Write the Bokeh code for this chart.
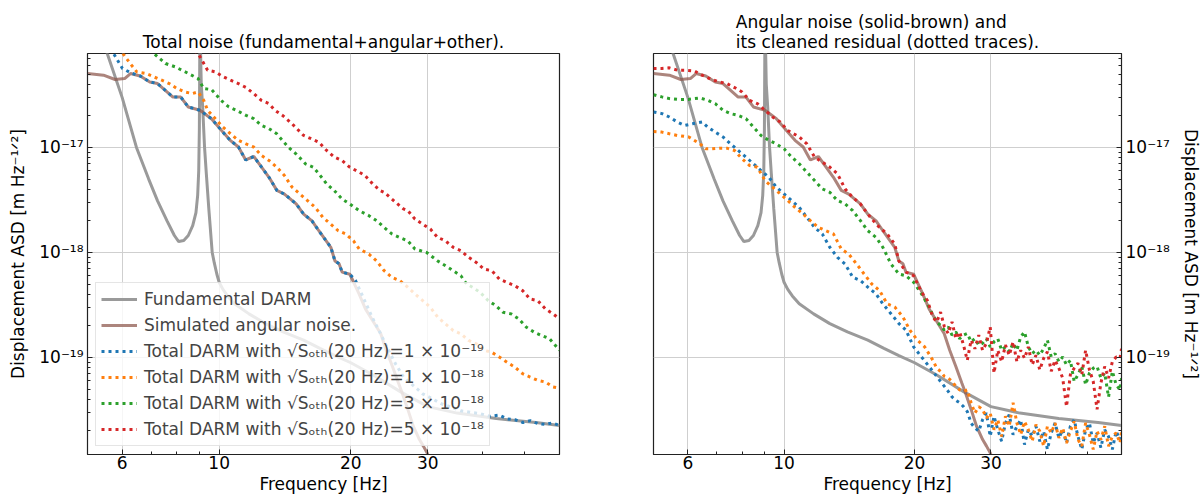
from bokeh.plotting import figure
from bokeh.layouts import row
from bokeh.models import FixedTicker, CustomJSTickFormatter
from bokeh.embed import file_html
from bokeh.resources import INLINE

FONT = "DejaVu Sans"
FS = "17px"

# ---------------- data (Hz, m/sqrt(Hz)) ----------------
fund_f = [5.0, 5.3, 5.55, 6.0, 6.47, 6.9, 7.23, 7.6, 7.9, 8.08, 8.3, 8.5, 8.7, 8.85, 8.93,
          8.98, 9.01, 9.04, 9.06, 9.1, 9.17, 9.26, 9.35, 9.47, 9.64, 9.75, 9.88, 10.0, 10.2, 10.45,
          10.84, 11.7, 12.75, 14.0, 15.6, 17.0, 18.4, 20.0, 22.5, 26.0, 30.0, 35.0, 43.0, 53.0, 60.0]
fund_A = [3.2e-16, 1.5e-16, 7.8e-17, 3.0e-17, 1.0e-17, 5.0e-18, 3.1e-18, 2.0e-18, 1.45e-18, 1.27e-18,
          1.3e-18, 1.45e-18, 1.8e-18, 2.4e-18, 3.5e-18, 6.0e-18, 1.5e-17, 2.0e-16, 1.0e-16, 4.0e-17,
          2.4e-17, 1.0e-17, 5.5e-18, 2.6e-18, 1.0e-18, 7.9e-19, 6.2e-19, 5.2e-19, 4.45e-19, 3.85e-19,
          3.24e-19, 2.6e-19, 2.1e-19, 1.75e-19, 1.46e-19, 1.22e-19, 1.04e-19, 8.9e-20, 6.8e-20, 4.7e-20,
          3.4e-20, 2.95e-20, 2.62e-20, 2.4e-20, 2.25e-20]

brown_f = [5.0, 5.44, 5.78, 6.08, 6.27, 6.60, 6.94, 7.23, 7.53, 7.84, 8.17, 8.5, 9.04, 9.6, 10.2,
           10.6, 11.07, 11.5, 12.0, 12.5, 13.0, 13.55, 14.1, 15.0, 15.6, 16.3, 16.9, 18.0, 18.4, 18.8,
           19.1, 19.9, 20.3, 20.9, 21.6, 22.5, 23.4, 24.1, 24.9, 25.7, 26.2, 27.0, 27.8, 28.7, 29.3,
           29.9, 31.0]
brown_A = [5.06e-17, 4.88e-17, 4.44e-17, 4.53e-17, 5.06e-17, 4.79e-17, 4.21e-17, 4.06e-17, 3.5e-17, 3.02e-17,
           3.02e-17, 2.43e-17, 2.26e-17, 1.88e-17, 1.40e-17, 1.17e-17, 1.01e-17, 7.6e-18, 8.2e-18, 6.5e-18,
           5.2e-18, 3.9e-18, 3.6e-18, 2.9e-18, 2.32e-18, 2.0e-18, 1.61e-18, 1.12e-18, 8.3e-19, 7.8e-19,
           6.5e-19, 6.2e-19, 5.2e-19, 4.0e-19, 2.9e-19, 2.2e-19, 1.69e-19, 1.17e-19, 8.2e-20, 5.7e-20,
           4.6e-20, 3.2e-20, 2.2e-20, 1.65e-20, 1.43e-20, 1.23e-20, 8.0e-21]

# left panel: total DARM
blue_l_f = [5.0, 5.4, 5.74, 6.01, 6.28, 6.60, 6.94, 7.23, 7.53, 7.84, 8.17, 8.5, 9.04, 9.6, 10.2,
            10.6, 11.07, 11.5, 12.0, 12.5, 13.0, 13.55, 14.1, 15.0, 15.6, 16.3, 16.9, 18.0, 18.4, 18.8,
            19.1, 19.9, 20.5, 21.5, 22.4, 23.4, 24.4, 25.3, 26.4, 28.0, 29.2, 30.5, 32.3, 34.0, 35.7,
            37.5, 39.5, 41.5, 43.7, 45.5, 47.5, 49.5, 51.5, 53.5, 55.7, 57.8, 60.0]
blue_l_A = [3.2e-16, 1.4e-16, 7.8e-17, 5.65e-17, 5.13e-17, 4.79e-17, 4.21e-17, 4.06e-17, 3.5e-17, 3.02e-17,
            3.02e-17, 2.43e-17, 2.26e-17, 1.88e-17, 1.40e-17, 1.17e-17, 1.01e-17, 7.6e-18, 8.2e-18, 6.5e-18,
            5.2e-18, 3.9e-18, 3.6e-18, 2.9e-18, 2.32e-18, 2.0e-18, 1.61e-18, 1.12e-18, 8.3e-19, 7.8e-19,
            6.5e-19, 6.2e-19, 5.4e-19, 3.5e-19, 2.4e-19, 1.68e-19, 1.17e-19, 8.7e-20, 6.5e-20, 5.25e-20,
            4.5e-20, 4.1e-20, 3.6e-20, 3.35e-20, 3.1e-20, 3.0e-20, 2.92e-20, 2.75e-20, 2.82e-20, 2.6e-20,
            2.55e-20, 2.4e-20, 2.5e-20, 2.35e-20, 2.3e-20, 2.38e-20, 2.25e-20]

orange_l_f = [5.0, 5.6, 6.26, 6.48, 6.81, 7.09, 7.39, 7.69, 8.01, 8.34, 8.68, 8.95, 9.22, 9.41, 9.80,
              10.2, 10.62, 11.06, 11.52, 11.99, 12.49, 13.0, 13.54, 14.1, 14.68, 15.29, 15.92, 16.58, 17.26, 17.97,
              18.71, 19.48, 20.28, 20.9, 22.0, 22.9, 23.84, 24.83, 25.85, 27.0, 28.03, 29.2, 30.4, 31.6, 32.9,
              34.3, 35.7, 37.2, 38.7, 40.3, 42.0, 43.7, 45.5, 47.4, 49.4, 51.4, 53.5, 55.7, 58.0, 60.0]
orange_l_A = [3.5e-16, 1.2e-16, 6.3e-17, 5.25e-17, 5.06e-17, 4.7e-17, 4.37e-17, 4.06e-17, 3.64e-17, 3.38e-17,
              3.26e-17, 3.38e-17, 2.81e-17, 2.26e-17, 1.88e-17, 1.56e-17, 1.35e-17, 1.17e-17, 1.08e-17, 1.01e-17,
              8.39e-18, 7.52e-18, 6.49e-18, 5.4e-18, 4.18e-18, 3.61e-18, 3.12e-18, 2.69e-18, 2.16e-18, 1.87e-18,
              1.61e-18, 1.5e-18, 1.29e-18, 1.08e-18, 9.64e-19, 8.3e-19, 6.7e-19, 5.8e-19, 5.4e-19, 4.66e-19,
              4.03e-19, 3.48e-19, 3.0e-19, 2.42e-19, 2.09e-19, 1.8e-19, 1.68e-19, 1.45e-19, 1.35e-19, 1.17e-19,
              1.12e-19, 1.01e-19, 9.0e-20, 8.1e-20, 7.0e-20, 6.5e-20, 6.05e-20, 5.83e-20, 5.24e-20, 5.1e-20]

green_l_f = [5.0, 6.0, 7.09, 7.54, 7.93, 8.51, 8.95, 9.22, 9.60, 10.1, 10.52, 10.95, 11.52, 11.99, 12.49,
             13.0, 13.54, 14.38, 14.98, 15.76, 16.41, 16.91, 17.61, 18.34, 19.09, 19.88, 20.9, 22.0, 22.9, 23.84,
             24.83, 25.85, 27.0, 28.03, 29.8, 31.6, 34.3, 35.7, 36.8, 37.95, 39.5, 41.2, 42.9, 44.6, 46.5,
             48.4, 50.4, 52.5, 54.6, 56.9, 60.0]
green_l_A = [4.5e-16, 1.7e-16, 7.85e-17, 6.3e-17, 5.86e-17, 5.06e-17, 4.53e-17, 3.64e-17, 3.56e-17, 2.81e-17,
             2.43e-17, 2.26e-17, 2.02e-17, 1.88e-17, 1.62e-17, 1.51e-17, 1.35e-17, 1.01e-17, 8.7e-18, 6.98e-18,
             6.49e-18, 5.6e-18, 4.5e-18, 3.88e-18, 3.23e-18, 2.9e-18, 2.5e-18, 2.24e-18, 2.01e-18, 1.73e-18,
             1.5e-18, 1.39e-18, 1.29e-18, 1.08e-18, 1.0e-18, 8.3e-19, 6.7e-19, 6.0e-19, 5.0e-19, 4.66e-19,
             4.17e-19, 3.48e-19, 3.12e-19, 2.69e-19, 2.6e-19, 2.33e-19, 1.94e-19, 1.74e-19, 1.62e-19, 1.51e-19,
             1.17e-19]

red_l_f = [5.0, 7.0, 8.95, 9.41, 9.80, 10.16, 10.62, 11.06, 11.52, 11.99, 12.49, 13.0, 13.41, 13.96, 14.68,
           15.6, 16.24, 16.91, 17.61, 18.34, 19.09, 19.88, 20.9, 21.55, 22.44, 23.37, 23.84, 25.33, 26.38, 27.0,
           28.03, 29.2, 30.4, 31.6, 32.9, 34.3, 35.7, 37.2, 38.7, 40.3, 42.0, 43.7, 45.5, 47.4, 49.4,
           51.4, 53.5, 55.7, 58.0, 60.0]
red_l_A = [6.0e-16, 1.6e-16, 7.85e-17, 5.45e-17, 5.25e-17, 4.77e-17, 4.37e-17, 4.06e-17, 3.72e-17, 3.26e-17,
           2.81e-17, 2.61e-17, 2.26e-17, 2.02e-17, 1.68e-17, 1.30e-17, 1.21e-17, 1.12e-17, 9.36e-18, 8.09e-18,
           7.52e-18, 6.49e-18, 5.81e-18, 5.4e-18, 4.5e-18, 3.88e-18, 3.74e-18, 3.0e-18, 2.6e-18, 2.5e-18,
           2.08e-18, 1.86e-18, 1.67e-18, 1.39e-18, 1.29e-18, 1.12e-18, 1.04e-18, 8.97e-19, 8.04e-19, 6.95e-19,
           6.7e-19, 5.58e-19, 5.19e-19, 4.83e-19, 4.33e-19, 3.6e-19, 3.48e-19, 2.9e-19, 2.6e-19, 2.33e-19]

# right panel: cleaned residuals (low-frequency part + noisy floor on a common grid)
f_floor = [22.04, 22.49, 22.96, 23.43, 23.91, 24.40, 24.90, 25.41, 25.93, 26.46,
           27.00, 27.55, 28.12, 28.69, 29.28, 29.88, 30.49, 31.11, 31.75, 32.40,
           33.06, 33.74, 34.43, 35.13, 35.85, 36.59, 37.34, 38.10, 38.88, 39.68,
           40.49, 41.32, 42.17, 43.03, 43.91, 44.81, 45.73, 46.67, 47.62, 48.60,
           49.59, 50.61, 51.64, 52.70, 53.78, 54.88, 56.01, 57.15, 58.32, 59.52, 60.0]

blue_r_f = [5.0, 5.23, 5.44, 5.67, 5.90, 6.15, 6.47, 6.67, 6.94, 7.23, 7.53, 7.84, 8.17, 8.5, 8.85,
            9.22, 9.6, 10.0, 10.41, 10.84, 11.29, 11.76, 12.25, 12.75, 13.28, 13.83, 14.40, 15.0, 15.6, 16.3,
            16.9, 17.64, 18.4, 19.1, 19.9, 20.75, 21.6]
blue_r_A = [2.18e-17, 2.1e-17, 1.95e-17, 1.75e-17, 1.62e-17, 1.68e-17, 1.75e-17, 1.56e-17, 1.40e-17, 1.26e-17,
            1.08e-17, 9.36e-18, 8.09e-18, 6.98e-18, 6.03e-18, 5.21e-18, 4.18e-18, 3.61e-18, 3.12e-18, 2.69e-18,
            2.16e-18, 1.73e-18, 1.5e-18, 1.12e-18, 8.97e-19, 7.76e-19, 5.8e-19, 5.4e-19, 4.67e-19, 4.03e-19,
            3.24e-19, 2.61e-19, 2.1e-19, 1.82e-19, 1.26e-19, 1.01e-19, 8.2e-20]
blue_floor = [7.35e-20, 6.6e-20, 5.9e-20, 5.3e-20, 4.75e-20, 4.2e-20, 3.9e-20, 3.7e-20, 3.4e-20, 3.05e-20,
              2.37e-20, 2.13e-20, 1.98e-20, 2.55e-20, 2.95e-20, 1.77e-20, 2.75e-20, 2.05e-20, 1.59e-20, 2.37e-20,
              2.85e-20, 1.84e-20, 2.21e-20, 2.55e-20, 1.48e-20, 2.05e-20, 1.77e-20, 2.21e-20, 1.59e-20, 1.98e-20,
              1.33e-20, 1.91e-20, 2.37e-20, 1.71e-20, 2.05e-20, 1.53e-20, 2.21e-20, 2.55e-20, 1.77e-20, 1.33e-20,
              2.05e-20, 2.37e-20, 1.53e-20, 1.91e-20, 1.38e-20, 2.05e-20, 1.77e-20, 1.33e-20, 1.98e-20, 1.65e-20,
              1.84e-20]

orange_r_f = [5.0, 5.23, 5.44, 5.67, 6.03, 6.40, 6.60, 6.80, 7.09, 7.38, 7.69, 8.0, 8.33, 8.68, 9.04,
              9.41, 9.80, 10.2, 10.6, 11.07, 11.5, 12.0, 12.5, 13.0, 13.55, 14.1, 14.7, 15.3, 15.94, 16.6,
              17.29, 18.0, 18.8, 19.5, 20.3, 21.1]
orange_r_A = [1.42e-17, 1.40e-17, 1.35e-17, 1.30e-17, 1.26e-17, 1.08e-17, 9.7e-18, 9.7e-18, 9.85e-18, 9.85e-18,
              9.36e-18, 7.8e-18, 6.73e-18, 6.49e-18, 4.84e-18, 4.18e-18, 3.61e-18, 3.12e-18, 2.69e-18, 2.32e-18,
              2.01e-18, 1.73e-18, 1.61e-18, 1.50e-18, 1.08e-18, 9.64e-19, 7.76e-19, 6.23e-19, 5.0e-19, 4.34e-19,
              3.24e-19, 3.02e-19, 2.43e-19, 1.82e-19, 1.46e-19, 1.26e-19]
orange_floor = [9.4e-20, 7.9e-20, 7.35e-20, 6.6e-20, 6.35e-20, 5.9e-20, 5.3e-20, 4.9e-20, 4.75e-20, 4.9e-20,
                3.7e-20, 2.95e-20, 3.4e-20, 3.2e-20, 2.65e-20, 2.95e-20, 2.05e-20, 2.55e-20, 1.77e-20, 2.75e-20,
                2.21e-20, 3.7e-20, 2.37e-20, 1.84e-20, 2.46e-20, 2.05e-20, 1.59e-20, 2.29e-20, 1.98e-20, 1.43e-20,
                2.21e-20, 1.91e-20, 2.37e-20, 1.71e-20, 2.13e-20, 1.53e-20, 1.98e-20, 2.46e-20, 1.65e-20, 1.43e-20,
                2.37e-20, 1.84e-20, 1.33e-20, 1.98e-20, 1.65e-20, 2.21e-20, 1.43e-20, 1.77e-20, 1.91e-20, 1.53e-20,
                1.98e-20]

green_r_f = [5.0, 5.23, 5.44, 5.67, 6.03, 6.40, 6.67, 6.94, 7.23, 7.53, 7.84, 8.17, 8.5, 8.85, 9.22,
             9.6, 10.0, 10.41, 10.84, 11.29, 11.76, 12.25, 12.75, 13.28, 13.83, 14.40, 15.0, 15.6, 16.3, 16.9,
             17.64, 18.4, 19.1, 19.9, 20.75, 21.6]
green_r_A = [3.18e-17, 3.03e-17, 2.92e-17, 2.87e-17, 2.87e-17, 2.96e-17, 2.81e-17, 2.61e-17, 2.26e-17, 2.1e-17,
             2.02e-17, 1.88e-17, 1.56e-17, 1.30e-17, 1.17e-17, 1.08e-17, 9.7e-18, 8.1e-18, 6.98e-18, 5.81e-18,
             4.84e-18, 4.03e-18, 3.74e-18, 3.12e-18, 2.9e-18, 2.5e-18, 2.01e-18, 1.61e-18, 1.39e-18, 1.12e-18,
             7.76e-19, 6.23e-19, 6.0e-19, 5.2e-19, 4.03e-19, 3.02e-19]
green_floor = [2.52e-19, 2.18e-19, 2.02e-19, 1.82e-19, 1.95e-19, 1.63e-19, 1.75e-19, 1.51e-19, 1.63e-19, 1.69e-19,
               1.41e-19, 1.51e-19, 1.31e-19, 1.36e-19, 1.51e-19, 1.26e-19, 1.41e-19, 1.51e-19, 1.17e-19, 1.26e-19,
               1.13e-19, 1.36e-19, 1.17e-19, 1.57e-19, 1.75e-19, 1.26e-19, 1.09e-19, 1.17e-19, 1.05e-19, 1.21e-19,
               1.46e-19, 1.01e-19, 1.09e-19, 9.1e-20, 1.01e-19, 8.5e-20, 9.4e-20, 5.9e-20, 6.85e-20, 8.2e-20,
               5.5e-20, 7.1e-20, 7.9e-20, 8.2e-20, 6.35e-20, 7.1e-20, 4.2e-20, 7.4e-20, 5.5e-20, 4.9e-20,
               6.35e-20]

red_r_f = [5.0, 5.23, 5.44, 5.67, 5.90, 6.21, 6.47, 6.80, 7.09, 7.38, 7.69, 8.0, 8.33, 8.68, 9.04,
           9.41, 9.80, 10.2, 10.84, 11.29, 11.76, 12.25, 12.75, 13.28, 13.83, 14.40, 15.0, 15.6, 15.94, 16.60,
           17.29, 18.0, 18.4, 19.1, 19.9, 20.75, 21.4]
red_r_A = [5.65e-17, 5.65e-17, 5.73e-17, 5.45e-17, 5.45e-17, 5.36e-17, 4.88e-17, 4.44e-17, 4.21e-17, 4.06e-17,
           3.72e-17, 3.38e-17, 2.81e-17, 2.61e-17, 2.26e-17, 1.95e-17, 1.75e-17, 1.45e-17, 1.26e-17, 1.08e-17,
           8.1e-18, 7.25e-18, 6.5e-18, 5.6e-18, 4.03e-18, 3.35e-18, 2.9e-18, 2.32e-18, 2.08e-18, 1.73e-18,
           1.5e-18, 1.2e-18, 8.3e-19, 6.5e-19, 6.0e-19, 4.18e-19, 3.49e-19]
red_floor = [2.43e-19, 2.18e-19, 2.70e-19, 1.95e-19, 1.69e-19, 2.18e-19, 1.51e-19, 1.75e-19, 1.31e-19, 9.4e-20,
             1.46e-19, 1.21e-19, 1.63e-19, 1.17e-19, 1.36e-19, 1.95e-19, 7.1e-20, 1.17e-19, 9.1e-20, 1.31e-19,
             1.05e-19, 1.41e-19, 9.1e-20, 1.17e-19, 9.8e-20, 1.26e-19, 8.5e-20, 1.05e-19, 7.6e-20, 9.8e-20,
             1.13e-19, 7.4e-20, 9.4e-20, 7.9e-20, 6.35e-20, 3.4e-20, 6.85e-20, 7.9e-20, 8.8e-20, 6.85e-20,
             1.17e-19, 7.6e-20, 5.9e-20, 3.2e-20, 5.7e-20, 8.2e-20, 6.35e-20, 9.1e-20, 1.01e-19, 9.8e-20,
             1.21e-19]

x_major = [6, 10, 20, 30]
x_minor = [5, 7, 8, 9, 40, 50, 60]
y_major = [1e-19, 1e-18, 1e-17]
y_minor = [m * 10.0 ** e for e in range(-21, -15) for m in range(2, 10)]

legend_labels = [
    "Fundamental DARM",
    "Simulated angular noise.",
    "Total DARM with \u221aS\u2092\u209c\u2095(20 Hz)=1 \u00d7 10\u207b\u00b9\u2079",
    "Total DARM with \u221aS\u2092\u209c\u2095(20 Hz)=1 \u00d7 10\u207b\u00b9\u2078",
    "Total DARM with \u221aS\u2092\u209c\u2095(20 Hz)=3 \u00d7 10\u207b\u00b9\u2078",
    "Total DARM with \u221aS\u2092\u209c\u2095(20 Hz)=5 \u00d7 10\u207b\u00b9\u2078",
]

C_GREY = "#9a9a9a"
C_BROWN = "#8c564b"
C_BLUE = "#1f77b4"
C_ORANGE = "#ff7f0e"
C_GREEN = "#2ca02c"
C_RED = "#d62728"
DOT = "3 4"

YJS = """
const sup = {'-': '\u207b', '0': '\u2070', '1': '\u00b9', '2': '\u00b2', '3': '\u00b3',
             '4': '\u2074', '5': '\u2075', '6': '\u2076', '7': '\u2077', '8': '\u2078', '9': '\u2079'};
const e = Math.round(Math.log10(tick));
let s = '';
for (const c of String(e)) { s += sup[c]; }
return '10' + s;
"""


def make_fig(title, yloc, width, bl, br):
    p = figure(width=width, height=498, x_axis_type="log", y_axis_type="log",
               x_range=(5, 60), y_range=(1.19e-20, 7.85e-17),
               output_backend="svg", toolbar_location=None, y_axis_location=yloc,
               min_border_left=bl, min_border_right=br, min_border_top=53, min_border_bottom=44)
    p.title.text = title
    p.title.align = "center"
    p.title.text_font = FONT
    p.title.text_font_size = FS
    p.title.text_font_style = "normal"
    p.title.text_color = "black"
    p.title.standoff = 4
    p.outline_line_color = "#222222"
    p.outline_line_width = 1.2
    p.background_fill_color = "white"
    p.border_fill_color = "white"

    p.xaxis.ticker = FixedTicker(ticks=x_major, minor_ticks=x_minor)
    p.xaxis.formatter = CustomJSTickFormatter(code="return String(Math.round(tick));")
    p.yaxis.ticker = FixedTicker(ticks=y_major, minor_ticks=y_minor)
    p.yaxis.formatter = CustomJSTickFormatter(code=YJS)
    p.xgrid.ticker = FixedTicker(ticks=x_major)
    p.ygrid.ticker = FixedTicker(ticks=y_major)
    for g in (p.xgrid, p.ygrid):
        g.grid_line_color = "#cfcfcf"
        g.grid_line_width = 1

    for ax in (p.xaxis, p.yaxis):
        ax.major_tick_in = 5
        ax.major_tick_out = 0
        ax.minor_tick_in = 3
        ax.minor_tick_out = 0
        ax.axis_line_color = "#222222"
        ax.major_tick_line_color = "#222222"
        ax.minor_tick_line_color = "#222222"
        ax.major_label_text_font = FONT
        ax.major_label_text_font_size = FS
        ax.major_label_text_color = "black"
        ax.axis_label_text_font = FONT
        ax.axis_label_text_font_size = FS
        ax.axis_label_text_font_style = "normal"
        ax.axis_label_text_color = "black"
    p.xaxis.major_label_standoff = 1
    p.xaxis.axis_label_standoff = 2
    p.yaxis.major_label_standoff = 4
    p.yaxis.axis_label_standoff = 8
    p.xaxis.axis_label = "Frequency [Hz]"
    p.yaxis.axis_label = "Displacement ASD [m Hz\u207b\u00b9\u141f\u00b2]"
    return p


p1 = make_fig("Total noise (fundamental+angular+other).", "left", 605, 87, 46)
p2 = make_fig("Angular noise (solid-brown) and\nits cleaned residual (dotted traces).", "right", 598, 48, 78)

# left panel
p1.line(fund_f, fund_A, line_color=C_GREY, line_width=3, legend_label=legend_labels[0])
p1.line(brown_f, brown_A, line_color=C_BROWN, line_alpha=0.72, line_width=3, legend_label=legend_labels[1])
for fx, ay, col, lab in ((blue_l_f, blue_l_A, C_BLUE, legend_labels[2]),
                         (orange_l_f, orange_l_A, C_ORANGE, legend_labels[3]),
                         (green_l_f, green_l_A, C_GREEN, legend_labels[4]),
                         (red_l_f, red_l_A, C_RED, legend_labels[5])):
    p1.line(fx, ay, line_color=col, line_width=3, line_dash=DOT, legend_label=lab)

leg = p1.legend[0]
leg.location = "bottom_left"
leg.margin = 8
leg.padding = 5
leg.spacing = 4
leg.label_height = 22
leg.glyph_height = 22
leg.glyph_width = 36
leg.label_standoff = 7
leg.label_text_font = FONT
leg.label_text_font_size = FS
leg.border_line_color = "#cccccc"
leg.border_line_width = 1
leg.background_fill_alpha = 0.8

# right panel
p2.line(fund_f, fund_A, line_color=C_GREY, line_width=3)
p2.line(brown_f, brown_A, line_color=C_BROWN, line_alpha=0.72, line_width=3)
for fx, ay, fl, col in ((blue_r_f, blue_r_A, blue_floor, C_BLUE),
                        (orange_r_f, orange_r_A, orange_floor, C_ORANGE),
                        (green_r_f, green_r_A, green_floor, C_GREEN),
                        (red_r_f, red_r_A, red_floor, C_RED)):
    p2.line(fx + f_floor, ay + fl, line_color=col, line_width=3, line_dash=DOT)

layout = row(p1, p2)
open("out.html", "w").write(file_html(layout, INLINE))
